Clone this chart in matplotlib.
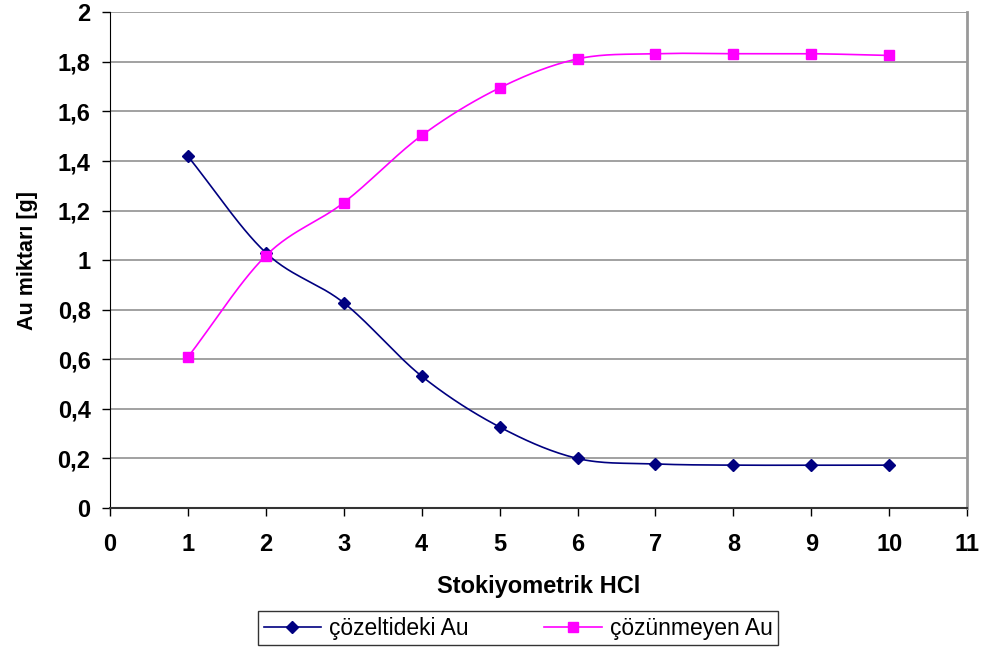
import numpy as np
import matplotlib.pyplot as plt
from matplotlib.ticker import FuncFormatter

plt.rcParams['font.family'] = ['Liberation Sans', 'DejaVu Sans']

# Stokiyometrik HCl oranı
x_vals = [1, 2, 3, 4, 5, 6, 7, 8, 9, 10]
# çözeltideki Au [g]
cozeltideki = [1.419, 1.030, 0.828, 0.532, 0.327, 0.200, 0.178, 0.173, 0.173, 0.173]
# çözünmeyen Au [g]
cozunmeyen = [0.609, 1.018, 1.232, 1.503, 1.695, 1.812, 1.833, 1.833, 1.833, 1.826]


def smooth(x, y, n=30):
    """Catmull-Rom eğrisi ile noktalar arasını yumuşatır."""
    x = np.asarray(x, float)
    y = np.asarray(y, float)
    px = np.concatenate([[2 * x[0] - x[1]], x, [2 * x[-1] - x[-2]]])
    py = np.concatenate([[2 * y[0] - y[1]], y, [2 * y[-1] - y[-2]]])
    xs, ys = [], []
    t = np.linspace(0, 1, n)
    for i in range(1, len(px) - 2):
        for p, out in ((px, xs), (py, ys)):
            p0, p1, p2, p3 = p[i - 1], p[i], p[i + 1], p[i + 2]
            out.extend(0.5 * ((2 * p1) + (-p0 + p2) * t
                              + (2 * p0 - 5 * p1 + 4 * p2 - p3) * t ** 2
                              + (-p0 + 3 * p1 - 3 * p2 + p3) * t ** 3))
    return np.array(xs), np.array(ys)


fig = plt.figure(figsize=(9.84, 6.48), dpi=100)
ax = fig.add_axes([0.1118, 0.216, 0.871, 0.765])

navy = '#000080'
pink = '#FF00FF'

sx, sy = smooth(x_vals, cozeltideki)
ax.plot(sx, sy, color=navy, lw=1.2, zorder=3)
ax.plot(x_vals, cozeltideki, ls='none', marker='D', ms=6, color=navy, zorder=4)
sx, sy = smooth(x_vals, cozunmeyen)
ax.plot(sx, sy, color=pink, lw=1.2, zorder=3)
ax.plot(x_vals, cozunmeyen, ls='none', marker='s', ms=6.5, color=pink, zorder=4)

# lejant için örnek çizgiler
ax.plot([], [], color=navy, lw=1.2, marker='D', ms=6, label='çözeltideki Au')
ax.plot([], [], color=pink, lw=1.2, marker='s', ms=6.5, label='çözünmeyen Au')

ax.set_xlim(0, 11)
ax.set_ylim(0, 2)
ax.set_xticks(range(0, 12))
ax.set_yticks(np.arange(0, 2.01, 0.2))
ax.yaxis.set_major_formatter(FuncFormatter(lambda v, p: f'{v:g}'.replace('.', ',')))
ax.grid(axis='y', color='#888888', lw=1.1)
ax.set_axisbelow(True)

ax.spines['top'].set_visible(False)
ax.spines['right'].set_color('#999999')
ax.spines['right'].set_linewidth(2)
ax.spines['left'].set_color('black')
ax.spines['bottom'].set_color('#333333')
ax.spines['bottom'].set_linewidth(1.5)

ax.tick_params(direction='out', length=6, width=1, labelsize=17)
ax.tick_params(axis='x', pad=12)
ax.tick_params(axis='y', pad=8)
for lab in ax.get_xticklabels() + ax.get_yticklabels():
    lab.set_fontweight('bold')

ax.set_xlabel('Stokiyometrik HCl', fontsize=17, fontweight='bold', labelpad=14)
ax.set_ylabel('Au miktarı [g]', fontsize=15.5, fontweight='bold', labelpad=14)

leg = fig.legend(loc='center', bbox_to_anchor=(0.5265, 0.0305), ncol=2, fontsize=16.5,
                 frameon=True, fancybox=False, edgecolor='black', handlelength=2.5,
                 columnspacing=3.3, borderpad=0.25, handletextpad=0.35,
                 borderaxespad=0)
leg.get_frame().set_linewidth(1)

fig.savefig('out.png', dpi=100)
